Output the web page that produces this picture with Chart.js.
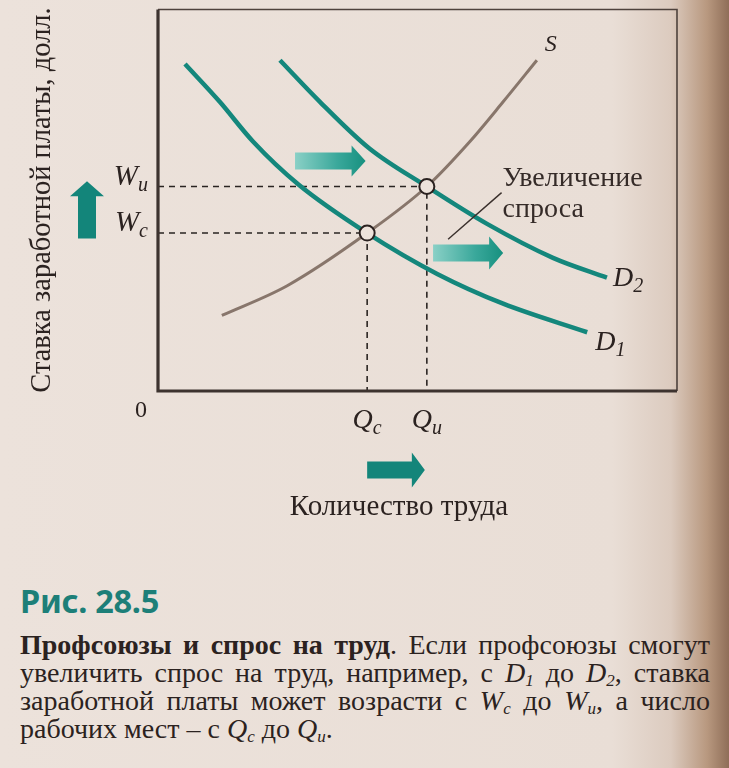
<!DOCTYPE html>
<html lang="ru">
<head>
<meta charset="utf-8">
<title>Рис. 28.5</title>
<script src="https://cdn.jsdelivr.net/npm/chart.js@4.4.1/dist/chart.umd.min.js"></script>
<style>
html, body { margin: 0; padding: 0; }
body {
    width: 729px; height: 768px; overflow: hidden; position: relative;
    background: linear-gradient(to right, #ece2db 0%, #e9ded6 84%, #dccbbf 92%, #b8987f 97%, #8f6e58 100%);
    font-family: "Liberation Serif", "DejaVu Serif", serif;
    color: #2b2220;
}
#wrap { position: absolute; left: 0; top: 0; width: 729px; height: 540px; }
#cap { position: absolute; left: 20px; top: 581px; width: 690px; }
#cap .fig { font-family: "Noto Sans", sans-serif; font-weight: 700; font-size: 32.5px; color: #1d7f78; line-height: 40px; letter-spacing: -0.3px; }
#cap .ln { font-size: 28px; line-height: 28px; height: 28px; text-align: justify; text-align-last: justify; white-space: nowrap; }
#cap .ln.last { text-align-last: left; }
#cap i sub { font-size: 17px; line-height: 0; position: relative; top: 4px; vertical-align: baseline; }
</style>
</head>
<body>
<div id="wrap"><canvas id="laborChart" width="729" height="540"></canvas></div>
<div id="cap">
    <div class="fig">Рис. 28.5</div>
    <div class="ln" style="margin-top:10px"><b>Профсоюзы и спрос на труд</b>. Если профсоюзы смогут</div>
    <div class="ln">увеличить спрос на труд, например, с <i>D<sub>1</sub></i> до <i>D<sub>2</sub></i>, ставка</div>
    <div class="ln">заработной платы может возрасти с <i>W<sub>c</sub></i> до <i>W<sub>u</sub></i>, а число</div>
    <div class="ln last">рабочих мест – с <i>Q<sub>c</sub></i> до <i>Q<sub>u</sub></i>.</div>
</div>
<script>
'use strict';

// кривая спроса D1
const d1X = [5.2, 11.9, 18.3, 27.0, 40.3, 53.8, 66.5, 82.7];
const d1Y = [85.7, 75.8, 65.4, 54.2, 41.4, 30.7, 22.9, 15.4];
// кривая спроса D2 (после увеличения)
const d2X = [23.5, 31.2, 40.8, 51.8, 63.4, 76.1, 86.5];
const d2Y = [86.7, 75.8, 63.5, 53.6, 43.8, 34.9, 29.7];
// кривая предложения S
const sX = [12.3, 24.9, 40.3, 51.8, 60.1, 66.5, 73.0];
const sY = [19.8, 27.6, 41.4, 53.6, 65.4, 75.8, 86.7];
// точки равновесия: c и u
const eqNames = ['c', 'u'];
const qValues = [40.3, 51.8];
const wValues = [41.4, 53.6];

const TEAL = '#14877c';
const INK = '#2b2220';

function toPoints(xs, ys) {
    return xs.map((x, i) => ({ x: x, y: ys[i] }));
}

function curve(label, xs, ys, color, width, order) {
    return {
        label: label,
        data: toPoints(xs, ys),
        borderColor: color,
        borderWidth: width,
        pointRadius: 0,
        cubicInterpolationMode: 'monotone',
        fill: false,
        order: order
    };
}

function dashed(i) {
    return {
        label: 'guide ' + eqNames[i],
        data: [{ x: 0, y: wValues[i] }, { x: qValues[i], y: wValues[i] }, { x: qValues[i], y: 0 }],
        borderColor: '#2a2422',
        borderWidth: 1.6,
        borderDash: [6, 5],
        pointRadius: 0,
        tension: 0,
        fill: false,
        order: 5
    };
}

// order: меньшее значение рисуется поверх
const datasets = [
    dashed(0),
    dashed(1),
    curve('S', sX, sY, 'rgba(125,106,95,0.9)', 3, 4),
    curve('D1', d1X, d1Y, TEAL, 4.5, 3),
    curve('D2', d2X, d2Y, TEAL, 4.5, 3),
    {
        label: 'eq',
        data: toPoints(qValues, wValues),
        showLine: false,
        pointRadius: 7.5,
        pointHoverRadius: 7.5,
        pointBorderWidth: 2,
        pointBorderColor: INK,
        pointBackgroundColor: '#ede3db',
        order: 0
    }
];

// горизонтальная стрелка
function arrowRight(ctx, x0, x1, yc, shaftH, headH, headL, fill) {
    ctx.save();
    ctx.fillStyle = fill;
    ctx.beginPath();
    ctx.moveTo(x0, yc - shaftH / 2);
    ctx.lineTo(x1 - headL, yc - shaftH / 2);
    ctx.lineTo(x1 - headL, yc - headH / 2);
    ctx.lineTo(x1, yc);
    ctx.lineTo(x1 - headL, yc + headH / 2);
    ctx.lineTo(x1 - headL, yc + shaftH / 2);
    ctx.lineTo(x0, yc + shaftH / 2);
    ctx.closePath();
    ctx.fill();
    ctx.restore();
}

// вертикальная стрелка вверх
function arrowUp(ctx, xc, y0, y1, shaftW, headW, headL, fill) {
    ctx.save();
    ctx.fillStyle = fill;
    ctx.beginPath();
    ctx.moveTo(xc - shaftW / 2, y0);
    ctx.lineTo(xc - shaftW / 2, y1 + headL);
    ctx.lineTo(xc - headW / 2, y1 + headL);
    ctx.lineTo(xc, y1);
    ctx.lineTo(xc + headW / 2, y1 + headL);
    ctx.lineTo(xc + shaftW / 2, y1 + headL);
    ctx.lineTo(xc + shaftW / 2, y0);
    ctx.closePath();
    ctx.fill();
    ctx.restore();
}

function softFill(ctx, x0, x1) {
    const g = ctx.createLinearGradient(x0, 0, x1, 0);
    g.addColorStop(0, '#8ad0c6');
    g.addColorStop(0.6, '#3aa89b');
    g.addColorStop(1, '#17907f');
    return g;
}

// буква с нижним индексом
function subText(ctx, main, sub, x, y, size, align) {
    ctx.save();
    ctx.fillStyle = INK;
    ctx.textBaseline = 'alphabetic';
    ctx.font = 'italic ' + size + 'px "Liberation Serif"';
    const w1 = ctx.measureText(main).width;
    ctx.font = 'italic ' + Math.round(size * 0.7) + 'px "Liberation Serif"';
    const w2 = ctx.measureText(sub).width;
    let left = x;
    if (align === 'center') left = x - (w1 + w2) / 2;
    if (align === 'right') left = x - (w1 + w2);
    ctx.font = 'italic ' + size + 'px "Liberation Serif"';
    ctx.fillText(main, left, y);
    ctx.font = 'italic ' + Math.round(size * 0.7) + 'px "Liberation Serif"';
    ctx.fillText(sub, left + w1, y + size * 0.22);
    ctx.restore();
}

const decorPlugin = {
    id: 'decor',
    beforeDatasetsDraw(chart) {
        const { ctx, chartArea: a } = chart;
        ctx.save();
        // тонкая рамка сверху и справа
        ctx.strokeStyle = '#4e423c';
        ctx.lineWidth = 1.6;
        ctx.beginPath();
        ctx.moveTo(a.left, a.top);
        ctx.lineTo(a.right, a.top);
        ctx.lineTo(a.right, a.bottom);
        ctx.stroke();
        ctx.restore();
    },
    afterDraw(chart) {
        const { ctx, chartArea: a } = chart;
        const xs = chart.scales.x, ys = chart.scales.y;

        // оси
        ctx.save();
        ctx.strokeStyle = '#3d332f';
        ctx.lineWidth = 3.2;
        ctx.beginPath();
        ctx.moveTo(a.left, a.top);
        ctx.lineTo(a.left, a.bottom);
        ctx.lineTo(a.right, a.bottom);
        ctx.stroke();
        ctx.restore();

        // подписи на осях
        ctx.save();
        ctx.fillStyle = INK;
        ctx.font = '24px "Liberation Serif"';
        ctx.textAlign = 'center';
        ctx.fillText('0', a.left - 17, a.bottom + 26);
        ctx.restore();

        for (let i = 0; i < eqNames.length; i++) {
            subText(ctx, 'Q', eqNames[i], xs.getPixelForValue(qValues[i]), a.bottom + 37, 28, 'center');
            subText(ctx, 'W', eqNames[i], a.left - 10, ys.getPixelForValue(wValues[i]) - 2, 29, 'right');
        }

        // названия кривых
        ctx.save();
        ctx.fillStyle = INK;
        ctx.font = 'italic 24px "Liberation Serif"';
        ctx.fillText('S', xs.getPixelForValue(74.5), ys.getPixelForValue(89));
        ctx.restore();
        subText(ctx, 'D', '2', xs.getPixelForValue(d2X[d2X.length - 1]) + 6, ys.getPixelForValue(d2Y[d2Y.length - 1]) + 8, 28, 'left');
        subText(ctx, 'D', '1', xs.getPixelForValue(d1X[d1X.length - 1]) + 8, ys.getPixelForValue(d1Y[d1Y.length - 1]) + 18, 28, 'left');

        // «Увеличение спроса» с выноской
        ctx.save();
        ctx.strokeStyle = '#3a302c';
        ctx.lineWidth = 1.4;
        ctx.beginPath();
        ctx.moveTo(xs.getPixelForValue(55.9), ys.getPixelForValue(39.8));
        ctx.lineTo(xs.getPixelForValue(66.2), ys.getPixelForValue(52.0));
        ctx.stroke();
        ctx.fillStyle = '#352b28';
        ctx.font = '28px "Liberation Serif"';
        ctx.fillText('Увеличение', xs.getPixelForValue(66.4), ys.getPixelForValue(53.8));
        ctx.fillText('спроса', xs.getPixelForValue(66.4), ys.getPixelForValue(45.5));
        ctx.restore();

        // стрелки сдвига спроса
        let x0 = xs.getPixelForValue(26.4), x1 = xs.getPixelForValue(40.0);
        arrowRight(ctx, x0, x1, ys.getPixelForValue(60.3), 17, 31, 14, softFill(ctx, x0, x1));
        x0 = xs.getPixelForValue(53.0); x1 = xs.getPixelForValue(66.5);
        arrowRight(ctx, x0, x1, ys.getPixelForValue(36.2), 17, 33, 14, softFill(ctx, x0, x1));

        // стрелки роста W и Q
        arrowUp(ctx, a.left - 71, ys.getPixelForValue(40.0), ys.getPixelForValue(55.0), 18, 34, 15, '#13857a');
        arrowRight(ctx, xs.getPixelForValue(qValues[0]), xs.getPixelForValue(qValues[1]) - 2, a.bottom + 79, 17, 35, 13, '#13857a');

        // названия осей
        ctx.save();
        ctx.fillStyle = INK;
        ctx.font = '29px "Liberation Serif"';
        ctx.textAlign = 'center';
        ctx.fillText('Количество труда', 399, a.bottom + 124);
        ctx.translate(50, 200);
        ctx.rotate(-Math.PI / 2);
        ctx.font = '28.5px "Liberation Serif"';
        ctx.fillText('Ставка заработной платы, долл.', 0, 0);
        ctx.restore();
    }
};

new Chart(document.getElementById('laborChart'), {
    type: 'line',
    data: { datasets: datasets },
    plugins: [decorPlugin],
    options: {
        responsive: false,
        animation: false,
        layout: { padding: { left: 158, top: 7, right: 52, bottom: 149 } },
        scales: {
            x: { type: 'linear', min: 0, max: 100, display: false },
            y: { type: 'linear', min: 0, max: 100, display: false }
        },
        plugins: {
            legend: { display: false },
            tooltip: { enabled: false }
        }
    }
});
</script>
</body>
</html>
